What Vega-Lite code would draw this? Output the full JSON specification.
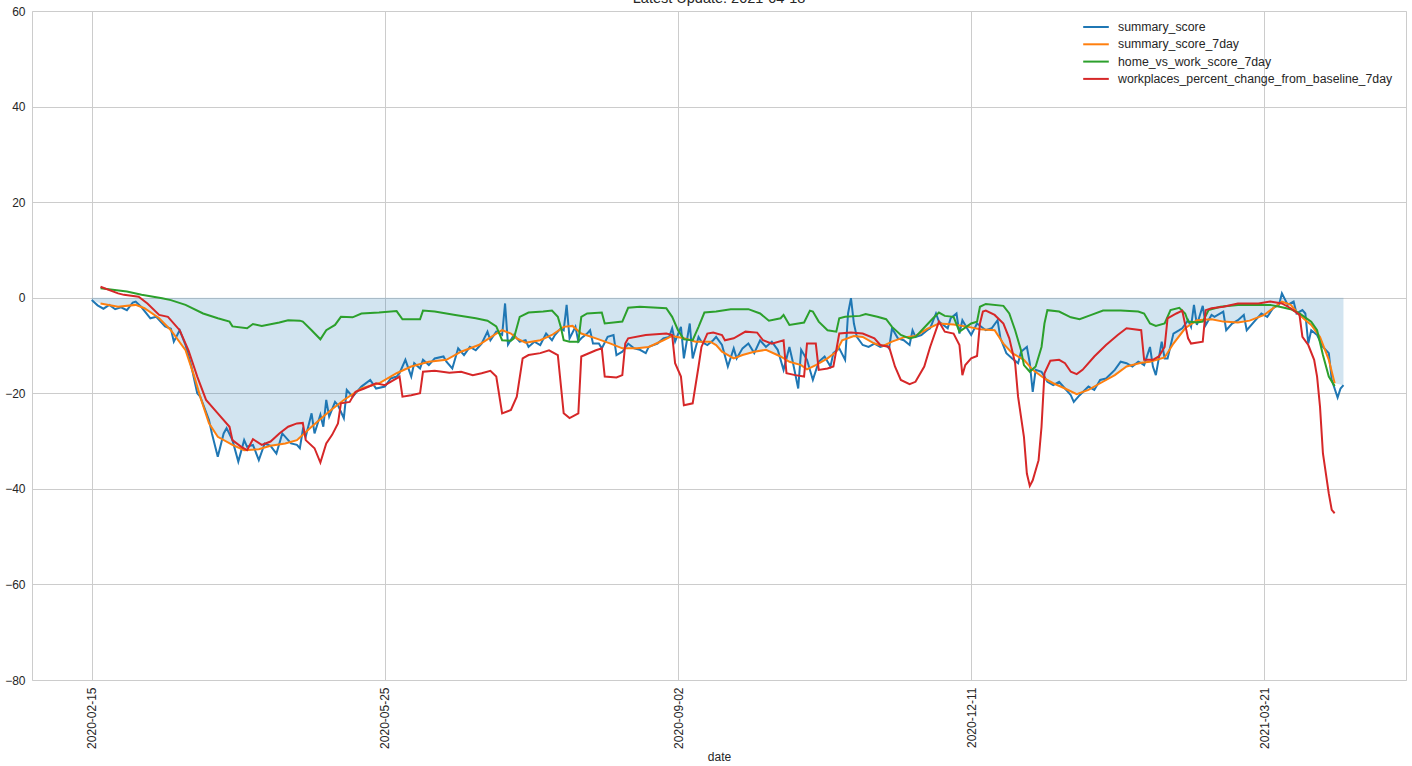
{
"$schema": "https://vega.github.io/schema/vega-lite/v6.json",
"width": 1374, "height": 669,
"autosize": {"type": "none"},
"padding": {"left": 32, "top": 11, "right": 6, "bottom": 86},
"background": "white",
"config": {"font": "Liberation Sans", "view": {"stroke": "#cccccc", "strokeWidth": 1}},
"title": {"text": "Latest Update: 2021-04-18", "fontSize": 14.5, "fontWeight": "normal", "color": "#262626", "offset": -12, "baseline": "alphabetic", "anchor": "middle"},
"datasets": {
"fill": [
{"date":"2020-02-15","value":-0.5},{"date":"2020-02-18","value":-1.2},{"date":"2020-02-24","value":-1.9},{"date":"2020-03-01","value":-1.5},{"date":"2020-03-04","value":-2.2},{"date":"2020-03-09","value":-4.3},{"date":"2020-03-13","value":-6.8},{"date":"2020-03-18","value":-11.0},{"date":"2020-03-21","value":-16.5},{"date":"2020-03-23","value":-20.7},{"date":"2020-03-26","value":-26.3},{"date":"2020-03-29","value":-29.1},{"date":"2020-04-03","value":-30.8},{"date":"2020-04-07","value":-31.9},{"date":"2020-04-12","value":-31.7},{"date":"2020-04-16","value":-31.0},{"date":"2020-04-21","value":-30.5},{"date":"2020-04-25","value":-29.8},{"date":"2020-04-30","value":-27.0},{"date":"2020-05-06","value":-23.8},{"date":"2020-05-11","value":-21.4},{"date":"2020-05-17","value":-19.0},{"date":"2020-05-23","value":-17.9},{"date":"2020-05-29","value":-15.8},{"date":"2020-06-03","value":-14.4},{"date":"2020-06-09","value":-13.4},{"date":"2020-06-15","value":-13.0},{"date":"2020-06-20","value":-11.3},{"date":"2020-06-26","value":-9.9},{"date":"2020-07-02","value":-7.5},{"date":"2020-07-04","value":-6.8},{"date":"2020-07-07","value":-7.5},{"date":"2020-07-09","value":-8.5},{"date":"2020-07-12","value":-9.4},{"date":"2020-07-17","value":-8.9},{"date":"2020-07-21","value":-7.8},{"date":"2020-07-25","value":-6.1},{"date":"2020-07-28","value":-5.9},{"date":"2020-07-31","value":-7.5},{"date":"2020-08-05","value":-8.5},{"date":"2020-08-10","value":-9.6},{"date":"2020-08-14","value":-10.6},{"date":"2020-08-19","value":-10.6},{"date":"2020-08-23","value":-10.3},{"date":"2020-08-28","value":-8.9},{"date":"2020-08-31","value":-8.0},{"date":"2020-09-04","value":-8.5},{"date":"2020-09-08","value":-9.2},{"date":"2020-09-13","value":-9.2},{"date":"2020-09-15","value":-9.9},{"date":"2020-09-17","value":-11.3},{"date":"2020-09-21","value":-12.7},{"date":"2020-09-24","value":-12.0},{"date":"2020-09-28","value":-11.3},{"date":"2020-10-02","value":-10.9},{"date":"2020-10-07","value":-12.3},{"date":"2020-10-10","value":-13.4},{"date":"2020-10-14","value":-14.1},{"date":"2020-10-16","value":-15.0},{"date":"2020-10-19","value":-14.1},{"date":"2020-10-23","value":-12.7},{"date":"2020-10-26","value":-11.3},{"date":"2020-10-28","value":-8.9},{"date":"2020-11-01","value":-8.0},{"date":"2020-11-04","value":-8.2},{"date":"2020-11-08","value":-9.6},{"date":"2020-11-11","value":-10.1},{"date":"2020-11-14","value":-9.2},{"date":"2020-11-18","value":-8.3},{"date":"2020-11-22","value":-8.0},{"date":"2020-11-26","value":-6.5},{"date":"2020-11-30","value":-5.4},{"date":"2020-12-05","value":-5.6},{"date":"2020-12-10","value":-6.1},{"date":"2020-12-14","value":-6.6},{"date":"2020-12-19","value":-6.8},{"date":"2020-12-22","value":-9.6},{"date":"2020-12-25","value":-11.6},{"date":"2020-12-29","value":-13.0},{"date":"2021-01-01","value":-15.1},{"date":"2021-01-05","value":-16.9},{"date":"2021-01-08","value":-17.9},{"date":"2021-01-12","value":-19.0},{"date":"2021-01-16","value":-20.2},{"date":"2021-01-20","value":-19.3},{"date":"2021-01-24","value":-17.9},{"date":"2021-01-29","value":-16.2},{"date":"2021-02-02","value":-14.4},{"date":"2021-02-07","value":-13.6},{"date":"2021-02-10","value":-13.4},{"date":"2021-02-15","value":-12.5},{"date":"2021-02-18","value":-9.6},{"date":"2021-02-22","value":-6.4},{"date":"2021-02-26","value":-4.7},{"date":"2021-03-03","value":-4.5},{"date":"2021-03-07","value":-5.0},{"date":"2021-03-12","value":-5.2},{"date":"2021-03-16","value":-4.8},{"date":"2021-03-21","value":-3.6},{"date":"2021-03-24","value":-2.2},{"date":"2021-03-27","value":-0.8},{"date":"2021-03-30","value":-1.5},{"date":"2021-04-02","value":-3.6},{"date":"2021-04-06","value":-5.7},{"date":"2021-04-09","value":-8.2},{"date":"2021-04-12","value":-13.0},{"date":"2021-04-14","value":-17.9},{"date":"2021-04-17","value":-18.3}
],
"summary_score": [
{"date":"2020-02-15","value":-0.5},{"date":"2020-02-17","value":-1.6},{"date":"2020-02-19","value":-2.3},{"date":"2020-02-21","value":-1.5},{"date":"2020-02-23","value":-2.4},{"date":"2020-02-25","value":-2.0},{"date":"2020-02-27","value":-2.6},{"date":"2020-02-29","value":-1.0},{"date":"2020-03-01","value":-0.8},{"date":"2020-03-03","value":-2.0},{"date":"2020-03-06","value":-4.3},{"date":"2020-03-08","value":-4.0},{"date":"2020-03-11","value":-6.0},{"date":"2020-03-13","value":-6.5},{"date":"2020-03-14","value":-9.2},{"date":"2020-03-16","value":-6.8},{"date":"2020-03-18","value":-9.9},{"date":"2020-03-20","value":-14.4},{"date":"2020-03-22","value":-20.0},{"date":"2020-03-23","value":-20.7},{"date":"2020-03-26","value":-25.6},{"date":"2020-03-27","value":-28.4},{"date":"2020-03-29","value":-33.3},{"date":"2020-03-31","value":-28.4},{"date":"2020-04-01","value":-27.3},{"date":"2020-04-03","value":-29.8},{"date":"2020-04-05","value":-34.3},{"date":"2020-04-07","value":-29.8},{"date":"2020-04-08","value":-31.2},{"date":"2020-04-10","value":-30.8},{"date":"2020-04-12","value":-34.0},{"date":"2020-04-14","value":-30.5},{"date":"2020-04-16","value":-31.0},{"date":"2020-04-18","value":-32.6},{"date":"2020-04-20","value":-28.4},{"date":"2020-04-23","value":-30.5},{"date":"2020-04-25","value":-30.8},{"date":"2020-04-26","value":-31.5},{"date":"2020-04-27","value":-27.7},{"date":"2020-04-28","value":-29.1},{"date":"2020-04-30","value":-24.2},{"date":"2020-05-01","value":-28.4},{"date":"2020-05-03","value":-24.5},{"date":"2020-05-04","value":-27.0},{"date":"2020-05-05","value":-21.4},{"date":"2020-05-06","value":-24.9},{"date":"2020-05-08","value":-21.8},{"date":"2020-05-09","value":-22.5},{"date":"2020-05-11","value":-25.2},{"date":"2020-05-12","value":-19.3},{"date":"2020-05-14","value":-20.7},{"date":"2020-05-16","value":-19.3},{"date":"2020-05-17","value":-18.6},{"date":"2020-05-20","value":-17.2},{"date":"2020-05-22","value":-19.0},{"date":"2020-05-25","value":-18.6},{"date":"2020-05-27","value":-16.9},{"date":"2020-05-29","value":-16.5},{"date":"2020-05-30","value":-15.8},{"date":"2020-06-01","value":-13.0},{"date":"2020-06-03","value":-16.5},{"date":"2020-06-04","value":-13.7},{"date":"2020-06-06","value":-14.8},{"date":"2020-06-07","value":-13.0},{"date":"2020-06-09","value":-14.1},{"date":"2020-06-11","value":-12.7},{"date":"2020-06-14","value":-12.3},{"date":"2020-06-15","value":-13.4},{"date":"2020-06-17","value":-14.8},{"date":"2020-06-19","value":-10.6},{"date":"2020-06-21","value":-12.0},{"date":"2020-06-23","value":-10.3},{"date":"2020-06-25","value":-11.0},{"date":"2020-06-27","value":-9.6},{"date":"2020-06-29","value":-7.1},{"date":"2020-06-30","value":-8.9},{"date":"2020-07-02","value":-7.1},{"date":"2020-07-04","value":-7.8},{"date":"2020-07-05","value":-1.2},{"date":"2020-07-06","value":-9.8},{"date":"2020-07-08","value":-7.8},{"date":"2020-07-10","value":-9.2},{"date":"2020-07-12","value":-8.9},{"date":"2020-07-13","value":-10.3},{"date":"2020-07-15","value":-9.2},{"date":"2020-07-17","value":-9.9},{"date":"2020-07-19","value":-7.5},{"date":"2020-07-21","value":-8.9},{"date":"2020-07-22","value":-7.8},{"date":"2020-07-24","value":-6.4},{"date":"2020-07-25","value":-6.8},{"date":"2020-07-26","value":-1.5},{"date":"2020-07-27","value":-8.5},{"date":"2020-07-29","value":-6.1},{"date":"2020-07-30","value":-9.2},{"date":"2020-07-31","value":-8.5},{"date":"2020-08-02","value":-7.5},{"date":"2020-08-03","value":-6.8},{"date":"2020-08-04","value":-9.6},{"date":"2020-08-06","value":-9.6},{"date":"2020-08-07","value":-10.6},{"date":"2020-08-09","value":-8.2},{"date":"2020-08-11","value":-7.8},{"date":"2020-08-12","value":-12.0},{"date":"2020-08-14","value":-11.3},{"date":"2020-08-16","value":-9.6},{"date":"2020-08-18","value":-10.6},{"date":"2020-08-20","value":-10.9},{"date":"2020-08-22","value":-11.6},{"date":"2020-08-23","value":-10.3},{"date":"2020-08-26","value":-9.6},{"date":"2020-08-28","value":-8.5},{"date":"2020-08-30","value":-8.2},{"date":"2020-08-31","value":-6.4},{"date":"2020-09-01","value":-9.2},{"date":"2020-09-03","value":-6.1},{"date":"2020-09-04","value":-12.7},{"date":"2020-09-06","value":-5.4},{"date":"2020-09-07","value":-12.7},{"date":"2020-09-09","value":-8.2},{"date":"2020-09-10","value":-9.2},{"date":"2020-09-12","value":-9.9},{"date":"2020-09-14","value":-8.9},{"date":"2020-09-15","value":-8.2},{"date":"2020-09-17","value":-9.9},{"date":"2020-09-19","value":-14.4},{"date":"2020-09-21","value":-10.6},{"date":"2020-09-22","value":-12.7},{"date":"2020-09-24","value":-10.6},{"date":"2020-09-26","value":-9.6},{"date":"2020-09-28","value":-11.6},{"date":"2020-09-30","value":-8.9},{"date":"2020-10-02","value":-10.3},{"date":"2020-10-04","value":-9.2},{"date":"2020-10-06","value":-10.9},{"date":"2020-10-08","value":-15.1},{"date":"2020-10-10","value":-10.3},{"date":"2020-10-11","value":-13.0},{"date":"2020-10-13","value":-19.0},{"date":"2020-10-14","value":-10.9},{"date":"2020-10-16","value":-13.0},{"date":"2020-10-18","value":-17.2},{"date":"2020-10-20","value":-13.4},{"date":"2020-10-22","value":-12.3},{"date":"2020-10-24","value":-14.4},{"date":"2020-10-25","value":-11.6},{"date":"2020-10-27","value":-10.6},{"date":"2020-10-29","value":-13.0},{"date":"2020-10-30","value":-3.3},{"date":"2020-10-31","value":-0.1},{"date":"2020-11-01","value":-5.4},{"date":"2020-11-02","value":-8.2},{"date":"2020-11-04","value":-9.9},{"date":"2020-11-06","value":-10.3},{"date":"2020-11-08","value":-9.6},{"date":"2020-11-10","value":-10.3},{"date":"2020-11-12","value":-9.9},{"date":"2020-11-13","value":-10.6},{"date":"2020-11-14","value":-6.4},{"date":"2020-11-16","value":-8.5},{"date":"2020-11-18","value":-8.9},{"date":"2020-11-20","value":-9.9},{"date":"2020-11-21","value":-6.8},{"date":"2020-11-22","value":-8.2},{"date":"2020-11-24","value":-7.8},{"date":"2020-11-26","value":-6.8},{"date":"2020-11-27","value":-6.4},{"date":"2020-11-29","value":-3.3},{"date":"2020-11-30","value":-5.0},{"date":"2020-12-03","value":-6.4},{"date":"2020-12-04","value":-4.3},{"date":"2020-12-06","value":-3.3},{"date":"2020-12-07","value":-7.5},{"date":"2020-12-08","value":-4.7},{"date":"2020-12-10","value":-6.8},{"date":"2020-12-11","value":-7.8},{"date":"2020-12-13","value":-5.4},{"date":"2020-12-16","value":-6.8},{"date":"2020-12-18","value":-6.4},{"date":"2020-12-20","value":-4.7},{"date":"2020-12-21","value":-8.5},{"date":"2020-12-23","value":-11.6},{"date":"2020-12-25","value":-12.7},{"date":"2020-12-27","value":-13.7},{"date":"2020-12-28","value":-11.3},{"date":"2020-12-30","value":-10.3},{"date":"2020-12-31","value":-13.7},{"date":"2021-01-01","value":-19.7},{"date":"2021-01-02","value":-15.1},{"date":"2021-01-04","value":-15.5},{"date":"2021-01-06","value":-17.6},{"date":"2021-01-08","value":-18.3},{"date":"2021-01-10","value":-17.6},{"date":"2021-01-12","value":-19.0},{"date":"2021-01-14","value":-20.4},{"date":"2021-01-15","value":-21.8},{"date":"2021-01-17","value":-20.4},{"date":"2021-01-20","value":-18.6},{"date":"2021-01-22","value":-19.3},{"date":"2021-01-24","value":-17.2},{"date":"2021-01-26","value":-16.9},{"date":"2021-01-29","value":-15.1},{"date":"2021-01-31","value":-13.4},{"date":"2021-02-02","value":-13.7},{"date":"2021-02-04","value":-14.4},{"date":"2021-02-06","value":-13.4},{"date":"2021-02-07","value":-13.7},{"date":"2021-02-08","value":-14.1},{"date":"2021-02-10","value":-10.3},{"date":"2021-02-11","value":-14.4},{"date":"2021-02-12","value":-16.2},{"date":"2021-02-13","value":-12.7},{"date":"2021-02-14","value":-9.2},{"date":"2021-02-15","value":-12.7},{"date":"2021-02-16","value":-12.7},{"date":"2021-02-18","value":-7.5},{"date":"2021-02-20","value":-6.8},{"date":"2021-02-21","value":-6.4},{"date":"2021-02-23","value":-4.7},{"date":"2021-02-24","value":-6.1},{"date":"2021-02-25","value":-1.5},{"date":"2021-02-26","value":-5.7},{"date":"2021-02-28","value":-1.7},{"date":"2021-03-01","value":-5.7},{"date":"2021-03-03","value":-3.6},{"date":"2021-03-04","value":-4.0},{"date":"2021-03-07","value":-2.9},{"date":"2021-03-08","value":-6.8},{"date":"2021-03-10","value":-5.4},{"date":"2021-03-12","value":-4.7},{"date":"2021-03-14","value":-3.6},{"date":"2021-03-15","value":-6.8},{"date":"2021-03-18","value":-4.7},{"date":"2021-03-20","value":-3.3},{"date":"2021-03-22","value":-4.0},{"date":"2021-03-24","value":-2.2},{"date":"2021-03-26","value":-1.5},{"date":"2021-03-27","value":0.9},{"date":"2021-03-29","value":-1.5},{"date":"2021-03-31","value":-0.8},{"date":"2021-04-01","value":-3.3},{"date":"2021-04-03","value":-2.6},{"date":"2021-04-04","value":-3.3},{"date":"2021-04-05","value":-9.6},{"date":"2021-04-06","value":-6.8},{"date":"2021-04-08","value":-7.8},{"date":"2021-04-10","value":-10.3},{"date":"2021-04-12","value":-11.6},{"date":"2021-04-13","value":-17.2},{"date":"2021-04-15","value":-20.9},{"date":"2021-04-16","value":-19.0},{"date":"2021-04-17","value":-18.3}
],
"summary_score_7day": [
{"date":"2020-02-18","value":-1.2},{"date":"2020-02-24","value":-1.9},{"date":"2020-03-01","value":-1.5},{"date":"2020-03-04","value":-2.2},{"date":"2020-03-09","value":-4.3},{"date":"2020-03-13","value":-6.8},{"date":"2020-03-18","value":-11.0},{"date":"2020-03-21","value":-16.5},{"date":"2020-03-23","value":-20.7},{"date":"2020-03-26","value":-26.3},{"date":"2020-03-29","value":-29.1},{"date":"2020-04-03","value":-30.8},{"date":"2020-04-07","value":-31.9},{"date":"2020-04-12","value":-31.7},{"date":"2020-04-16","value":-31.0},{"date":"2020-04-21","value":-30.5},{"date":"2020-04-25","value":-29.8},{"date":"2020-04-30","value":-27.0},{"date":"2020-05-06","value":-23.8},{"date":"2020-05-11","value":-21.4},{"date":"2020-05-17","value":-19.0},{"date":"2020-05-23","value":-17.9},{"date":"2020-05-29","value":-15.8},{"date":"2020-06-03","value":-14.4},{"date":"2020-06-09","value":-13.4},{"date":"2020-06-15","value":-13.0},{"date":"2020-06-20","value":-11.3},{"date":"2020-06-26","value":-9.9},{"date":"2020-07-02","value":-7.5},{"date":"2020-07-04","value":-6.8},{"date":"2020-07-07","value":-7.5},{"date":"2020-07-09","value":-8.5},{"date":"2020-07-12","value":-9.4},{"date":"2020-07-17","value":-8.9},{"date":"2020-07-21","value":-7.8},{"date":"2020-07-25","value":-6.1},{"date":"2020-07-28","value":-5.9},{"date":"2020-07-31","value":-7.5},{"date":"2020-08-05","value":-8.5},{"date":"2020-08-10","value":-9.6},{"date":"2020-08-14","value":-10.6},{"date":"2020-08-19","value":-10.6},{"date":"2020-08-23","value":-10.3},{"date":"2020-08-28","value":-8.9},{"date":"2020-08-31","value":-8.0},{"date":"2020-09-04","value":-8.5},{"date":"2020-09-08","value":-9.2},{"date":"2020-09-13","value":-9.2},{"date":"2020-09-15","value":-9.9},{"date":"2020-09-17","value":-11.3},{"date":"2020-09-21","value":-12.7},{"date":"2020-09-24","value":-12.0},{"date":"2020-09-28","value":-11.3},{"date":"2020-10-02","value":-10.9},{"date":"2020-10-07","value":-12.3},{"date":"2020-10-10","value":-13.4},{"date":"2020-10-14","value":-14.1},{"date":"2020-10-16","value":-15.0},{"date":"2020-10-19","value":-14.1},{"date":"2020-10-23","value":-12.7},{"date":"2020-10-26","value":-11.3},{"date":"2020-10-28","value":-8.9},{"date":"2020-11-01","value":-8.0},{"date":"2020-11-04","value":-8.2},{"date":"2020-11-08","value":-9.6},{"date":"2020-11-11","value":-10.1},{"date":"2020-11-14","value":-9.2},{"date":"2020-11-18","value":-8.3},{"date":"2020-11-22","value":-8.0},{"date":"2020-11-26","value":-6.5},{"date":"2020-11-30","value":-5.4},{"date":"2020-12-05","value":-5.6},{"date":"2020-12-10","value":-6.1},{"date":"2020-12-14","value":-6.6},{"date":"2020-12-19","value":-6.8},{"date":"2020-12-22","value":-9.6},{"date":"2020-12-25","value":-11.6},{"date":"2020-12-29","value":-13.0},{"date":"2021-01-01","value":-15.1},{"date":"2021-01-05","value":-16.9},{"date":"2021-01-08","value":-17.9},{"date":"2021-01-12","value":-19.0},{"date":"2021-01-16","value":-20.2},{"date":"2021-01-20","value":-19.3},{"date":"2021-01-24","value":-17.9},{"date":"2021-01-29","value":-16.2},{"date":"2021-02-02","value":-14.4},{"date":"2021-02-07","value":-13.6},{"date":"2021-02-10","value":-13.4},{"date":"2021-02-15","value":-12.5},{"date":"2021-02-18","value":-9.6},{"date":"2021-02-22","value":-6.4},{"date":"2021-02-26","value":-4.7},{"date":"2021-03-03","value":-4.5},{"date":"2021-03-07","value":-5.0},{"date":"2021-03-12","value":-5.2},{"date":"2021-03-16","value":-4.8},{"date":"2021-03-21","value":-3.6},{"date":"2021-03-24","value":-2.2},{"date":"2021-03-27","value":-0.8},{"date":"2021-03-30","value":-1.5},{"date":"2021-04-02","value":-3.6},{"date":"2021-04-06","value":-5.7},{"date":"2021-04-09","value":-8.2},{"date":"2021-04-12","value":-13.0},{"date":"2021-04-14","value":-17.9}
],
"home_vs_work_score_7day": [
{"date":"2020-02-18","value":2.0},{"date":"2020-02-27","value":1.3},{"date":"2020-03-03","value":0.6},{"date":"2020-03-10","value":-0.1},{"date":"2020-03-13","value":-0.5},{"date":"2020-03-18","value":-1.5},{"date":"2020-03-24","value":-3.3},{"date":"2020-03-29","value":-4.3},{"date":"2020-04-02","value":-5.0},{"date":"2020-04-03","value":-6.0},{"date":"2020-04-08","value":-6.4},{"date":"2020-04-10","value":-5.5},{"date":"2020-04-13","value":-5.9},{"date":"2020-04-19","value":-5.2},{"date":"2020-04-22","value":-4.7},{"date":"2020-04-26","value":-4.8},{"date":"2020-04-27","value":-5.0},{"date":"2020-04-30","value":-6.8},{"date":"2020-05-03","value":-8.7},{"date":"2020-05-05","value":-6.8},{"date":"2020-05-08","value":-5.7},{"date":"2020-05-10","value":-4.0},{"date":"2020-05-14","value":-4.1},{"date":"2020-05-17","value":-3.3},{"date":"2020-05-23","value":-3.1},{"date":"2020-05-29","value":-2.8},{"date":"2020-05-31","value":-4.5},{"date":"2020-06-06","value":-4.5},{"date":"2020-06-07","value":-2.7},{"date":"2020-06-11","value":-2.9},{"date":"2020-06-18","value":-3.6},{"date":"2020-06-25","value":-4.3},{"date":"2020-06-29","value":-4.8},{"date":"2020-07-02","value":-6.0},{"date":"2020-07-04","value":-8.9},{"date":"2020-07-07","value":-9.0},{"date":"2020-07-08","value":-8.5},{"date":"2020-07-10","value":-4.0},{"date":"2020-07-13","value":-3.1},{"date":"2020-07-18","value":-2.9},{"date":"2020-07-21","value":-2.7},{"date":"2020-07-23","value":-4.0},{"date":"2020-07-24","value":-6.1},{"date":"2020-07-25","value":-8.9},{"date":"2020-07-27","value":-9.2},{"date":"2020-07-30","value":-9.2},{"date":"2020-07-31","value":-4.0},{"date":"2020-08-02","value":-3.3},{"date":"2020-08-07","value":-3.1},{"date":"2020-08-08","value":-5.4},{"date":"2020-08-14","value":-5.0},{"date":"2020-08-16","value":-2.1},{"date":"2020-08-20","value":-1.9},{"date":"2020-08-29","value":-2.2},{"date":"2020-08-31","value":-4.0},{"date":"2020-09-02","value":-6.8},{"date":"2020-09-04","value":-8.7},{"date":"2020-09-07","value":-8.9},{"date":"2020-09-09","value":-6.1},{"date":"2020-09-11","value":-3.1},{"date":"2020-09-15","value":-2.9},{"date":"2020-09-20","value":-2.4},{"date":"2020-09-26","value":-2.4},{"date":"2020-09-30","value":-3.3},{"date":"2020-10-03","value":-4.8},{"date":"2020-10-07","value":-4.3},{"date":"2020-10-08","value":-3.6},{"date":"2020-10-10","value":-5.7},{"date":"2020-10-15","value":-5.2},{"date":"2020-10-17","value":-2.7},{"date":"2020-10-18","value":-2.9},{"date":"2020-10-20","value":-5.0},{"date":"2020-10-23","value":-6.8},{"date":"2020-10-26","value":-7.1},{"date":"2020-10-27","value":-4.3},{"date":"2020-10-29","value":-4.0},{"date":"2020-11-03","value":-3.8},{"date":"2020-11-05","value":-3.4},{"date":"2020-11-09","value":-4.0},{"date":"2020-11-12","value":-4.5},{"date":"2020-11-14","value":-6.1},{"date":"2020-11-17","value":-7.8},{"date":"2020-11-20","value":-8.5},{"date":"2020-11-22","value":-8.2},{"date":"2020-11-26","value":-5.6},{"date":"2020-11-28","value":-4.3},{"date":"2020-11-30","value":-3.1},{"date":"2020-12-02","value":-3.8},{"date":"2020-12-05","value":-4.0},{"date":"2020-12-07","value":-7.1},{"date":"2020-12-11","value":-5.4},{"date":"2020-12-13","value":-5.0},{"date":"2020-12-14","value":-1.9},{"date":"2020-12-16","value":-1.3},{"date":"2020-12-22","value":-1.7},{"date":"2020-12-24","value":-3.3},{"date":"2020-12-26","value":-6.8},{"date":"2020-12-28","value":-11.0},{"date":"2020-12-29","value":-14.1},{"date":"2020-12-31","value":-15.5},{"date":"2021-01-02","value":-14.4},{"date":"2021-01-04","value":-10.3},{"date":"2021-01-05","value":-5.4},{"date":"2021-01-06","value":-2.6},{"date":"2021-01-10","value":-2.9},{"date":"2021-01-14","value":-4.1},{"date":"2021-01-17","value":-4.5},{"date":"2021-01-21","value":-3.6},{"date":"2021-01-25","value":-2.7},{"date":"2021-01-31","value":-2.7},{"date":"2021-02-06","value":-2.9},{"date":"2021-02-08","value":-3.3},{"date":"2021-02-10","value":-5.4},{"date":"2021-02-12","value":-5.9},{"date":"2021-02-15","value":-5.4},{"date":"2021-02-17","value":-2.6},{"date":"2021-02-20","value":-2.1},{"date":"2021-02-22","value":-3.3},{"date":"2021-02-23","value":-5.0},{"date":"2021-02-26","value":-5.2},{"date":"2021-02-28","value":-5.0},{"date":"2021-03-02","value":-2.6},{"date":"2021-03-06","value":-1.9},{"date":"2021-03-12","value":-1.5},{"date":"2021-03-18","value":-1.5},{"date":"2021-03-23","value":-1.5},{"date":"2021-03-27","value":-2.0},{"date":"2021-03-30","value":-2.4},{"date":"2021-04-02","value":-3.3},{"date":"2021-04-06","value":-5.0},{"date":"2021-04-08","value":-6.8},{"date":"2021-04-10","value":-12.0},{"date":"2021-04-12","value":-16.5},{"date":"2021-04-14","value":-18.5}
],
"workplaces_percent_change_from_baseline_7day": [
{"date":"2020-02-18","value":2.3},{"date":"2020-02-24","value":0.9},{"date":"2020-02-26","value":0.6},{"date":"2020-03-02","value":0.2},{"date":"2020-03-05","value":-1.2},{"date":"2020-03-09","value":-3.6},{"date":"2020-03-12","value":-4.0},{"date":"2020-03-16","value":-6.8},{"date":"2020-03-19","value":-11.0},{"date":"2020-03-22","value":-16.5},{"date":"2020-03-25","value":-21.4},{"date":"2020-03-29","value":-24.2},{"date":"2020-04-02","value":-27.0},{"date":"2020-04-03","value":-29.8},{"date":"2020-04-06","value":-31.2},{"date":"2020-04-08","value":-31.9},{"date":"2020-04-10","value":-29.6},{"date":"2020-04-13","value":-30.8},{"date":"2020-04-16","value":-30.1},{"date":"2020-04-19","value":-28.4},{"date":"2020-04-22","value":-27.0},{"date":"2020-04-25","value":-26.3},{"date":"2020-04-27","value":-26.2},{"date":"2020-04-28","value":-29.8},{"date":"2020-05-01","value":-31.5},{"date":"2020-05-03","value":-34.5},{"date":"2020-05-05","value":-30.5},{"date":"2020-05-07","value":-28.7},{"date":"2020-05-09","value":-26.3},{"date":"2020-05-10","value":-22.1},{"date":"2020-05-13","value":-21.8},{"date":"2020-05-15","value":-19.7},{"date":"2020-05-18","value":-19.0},{"date":"2020-05-22","value":-17.9},{"date":"2020-05-25","value":-18.3},{"date":"2020-05-29","value":-16.9},{"date":"2020-05-30","value":-16.5},{"date":"2020-05-31","value":-20.7},{"date":"2020-06-03","value":-20.4},{"date":"2020-06-06","value":-20.0},{"date":"2020-06-07","value":-15.5},{"date":"2020-06-11","value":-15.3},{"date":"2020-06-16","value":-15.7},{"date":"2020-06-20","value":-15.5},{"date":"2020-06-24","value":-16.2},{"date":"2020-06-27","value":-15.8},{"date":"2020-06-30","value":-15.3},{"date":"2020-07-02","value":-16.5},{"date":"2020-07-04","value":-24.2},{"date":"2020-07-07","value":-23.5},{"date":"2020-07-09","value":-20.7},{"date":"2020-07-11","value":-12.7},{"date":"2020-07-13","value":-12.0},{"date":"2020-07-17","value":-11.6},{"date":"2020-07-20","value":-11.0},{"date":"2020-07-23","value":-12.0},{"date":"2020-07-25","value":-24.2},{"date":"2020-07-27","value":-25.2},{"date":"2020-07-30","value":-24.2},{"date":"2020-07-31","value":-12.3},{"date":"2020-08-05","value":-11.0},{"date":"2020-08-07","value":-10.6},{"date":"2020-08-08","value":-16.5},{"date":"2020-08-12","value":-16.7},{"date":"2020-08-14","value":-16.2},{"date":"2020-08-15","value":-9.6},{"date":"2020-08-16","value":-8.5},{"date":"2020-08-22","value":-7.8},{"date":"2020-08-29","value":-7.5},{"date":"2020-08-31","value":-7.8},{"date":"2020-09-01","value":-13.7},{"date":"2020-09-03","value":-16.5},{"date":"2020-09-04","value":-22.5},{"date":"2020-09-07","value":-22.1},{"date":"2020-09-09","value":-14.4},{"date":"2020-09-10","value":-10.3},{"date":"2020-09-12","value":-7.5},{"date":"2020-09-14","value":-7.3},{"date":"2020-09-17","value":-7.8},{"date":"2020-09-18","value":-8.9},{"date":"2020-09-21","value":-8.5},{"date":"2020-09-25","value":-7.1},{"date":"2020-09-29","value":-7.3},{"date":"2020-10-01","value":-8.9},{"date":"2020-10-04","value":-9.6},{"date":"2020-10-08","value":-8.9},{"date":"2020-10-09","value":-15.8},{"date":"2020-10-12","value":-16.2},{"date":"2020-10-15","value":-16.5},{"date":"2020-10-16","value":-9.6},{"date":"2020-10-19","value":-9.6},{"date":"2020-10-20","value":-15.1},{"date":"2020-10-23","value":-14.8},{"date":"2020-10-25","value":-14.4},{"date":"2020-10-27","value":-7.5},{"date":"2020-10-31","value":-7.3},{"date":"2020-11-04","value":-7.5},{"date":"2020-11-08","value":-8.5},{"date":"2020-11-10","value":-9.9},{"date":"2020-11-13","value":-10.3},{"date":"2020-11-15","value":-14.4},{"date":"2020-11-17","value":-17.2},{"date":"2020-11-20","value":-18.1},{"date":"2020-11-22","value":-17.6},{"date":"2020-11-25","value":-14.4},{"date":"2020-11-27","value":-10.3},{"date":"2020-11-30","value":-5.0},{"date":"2020-12-02","value":-7.1},{"date":"2020-12-05","value":-7.5},{"date":"2020-12-07","value":-9.9},{"date":"2020-12-08","value":-16.2},{"date":"2020-12-09","value":-14.1},{"date":"2020-12-11","value":-12.7},{"date":"2020-12-13","value":-12.2},{"date":"2020-12-14","value":-5.4},{"date":"2020-12-15","value":-2.9},{"date":"2020-12-16","value":-2.7},{"date":"2020-12-19","value":-3.6},{"date":"2020-12-22","value":-5.4},{"date":"2020-12-24","value":-8.5},{"date":"2020-12-26","value":-13.7},{"date":"2020-12-27","value":-20.7},{"date":"2020-12-29","value":-29.1},{"date":"2020-12-30","value":-36.8},{"date":"2020-12-31","value":-39.4},{"date":"2021-01-01","value":-38.2},{"date":"2021-01-03","value":-34.0},{"date":"2021-01-04","value":-27.0},{"date":"2021-01-05","value":-15.8},{"date":"2021-01-07","value":-13.2},{"date":"2021-01-10","value":-13.0},{"date":"2021-01-12","value":-13.7},{"date":"2021-01-14","value":-15.5},{"date":"2021-01-16","value":-16.0},{"date":"2021-01-18","value":-15.1},{"date":"2021-01-22","value":-12.3},{"date":"2021-01-26","value":-9.9},{"date":"2021-01-30","value":-7.8},{"date":"2021-02-02","value":-6.4},{"date":"2021-02-07","value":-6.8},{"date":"2021-02-08","value":-13.0},{"date":"2021-02-11","value":-13.0},{"date":"2021-02-13","value":-12.3},{"date":"2021-02-15","value":-10.3},{"date":"2021-02-16","value":-4.3},{"date":"2021-02-19","value":-3.3},{"date":"2021-02-21","value":-2.7},{"date":"2021-02-23","value":-8.5},{"date":"2021-02-24","value":-9.6},{"date":"2021-02-28","value":-9.2},{"date":"2021-03-01","value":-2.6},{"date":"2021-03-03","value":-2.2},{"date":"2021-03-07","value":-1.9},{"date":"2021-03-12","value":-1.2},{"date":"2021-03-19","value":-1.2},{"date":"2021-03-23","value":-0.8},{"date":"2021-03-27","value":-1.2},{"date":"2021-03-30","value":-2.2},{"date":"2021-04-02","value":-3.6},{"date":"2021-04-03","value":-8.2},{"date":"2021-04-05","value":-9.9},{"date":"2021-04-07","value":-13.0},{"date":"2021-04-08","value":-16.5},{"date":"2021-04-09","value":-22.8},{"date":"2021-04-10","value":-32.6},{"date":"2021-04-12","value":-41.0},{"date":"2021-04-13","value":-44.4},{"date":"2021-04-14","value":-45.1}
]
},
"encoding": {
"x": {"field": "date", "type": "temporal",
 "scale": {"type": "utc", "domain": [{"year": 2020, "month": 1, "date": 25, "hours": 15, "utc": true}, {"year": 2021, "month": 5, "date": 8, "hours": 8, "utc": true}]},
 "axis": {"values": [{"year": 2020, "month": 2, "date": 15, "utc": true}, {"year": 2020, "month": 5, "date": 25, "utc": true}, {"year": 2020, "month": 9, "date": 2, "utc": true}, {"year": 2020, "month": 12, "date": 11, "utc": true}, {"year": 2021, "month": 3, "date": 21, "utc": true}],
  "format": "%Y-%m-%d", "labelAngle": 270, "labelFontSize": 12, "labelColor": "#262626", "labelPadding": 7, "ticks": false, "domain": false, "grid": true, "gridColor": "#cccccc", "gridWidth": 1, "title": "date", "titleFontSize": 12, "titleFontWeight": "normal", "titleColor": "#262626", "titlePadding": 3, "labelFlush": false, "labelOverlap": false}},
"y": {"field": "value", "type": "quantitative",
 "scale": {"domain": [-80, 60], "nice": false, "zero": false},
 "axis": {"values": [-80, -60, -40, -20, 0, 20, 40, 60], "labelFontSize": 12, "labelColor": "#262626", "labelPadding": 7, "ticks": false, "domain": false, "grid": true, "gridColor": "#cccccc", "gridWidth": 1, "title": null, "labelFlush": false}}
},
"layer": [
{"data": {"name": "fill"}, "mark": {"type": "area", "color": "#1f77b4", "opacity": 0.2}, "encoding": {"y2": {"datum": 0}}},
{"data": {"name": "summary_score"}, "mark": {"type": "line", "strokeWidth": 2},
 "encoding": {"color": {"datum": "summary_score", "type": "nominal",
  "scale": {"domain": ["summary_score", "summary_score_7day", "home_vs_work_score_7day", "workplaces_percent_change_from_baseline_7day"], "range": ["#1f77b4", "#ff7f0e", "#2ca02c", "#d62728"]},
  "legend": {"orient": "none", "legendX": 1055, "legendY": 7, "title": null, "symbolType": "M-1.6,0H1.6", "symbolSize": 256, "symbolStrokeWidth": 2, "labelFontSize": 12.3, "labelColor": "#262626", "labelOffset": 13, "labelLimit": 500, "rowPadding": 1.3, "padding": 0}}}},
{"data": {"name": "summary_score_7day"}, "mark": {"type": "line", "strokeWidth": 2}, "encoding": {"color": {"datum": "summary_score_7day", "type": "nominal"}}},
{"data": {"name": "home_vs_work_score_7day"}, "mark": {"type": "line", "strokeWidth": 2}, "encoding": {"color": {"datum": "home_vs_work_score_7day", "type": "nominal"}}},
{"data": {"name": "workplaces_percent_change_from_baseline_7day"}, "mark": {"type": "line", "strokeWidth": 2}, "encoding": {"color": {"datum": "workplaces_percent_change_from_baseline_7day", "type": "nominal"}}}
]
}
